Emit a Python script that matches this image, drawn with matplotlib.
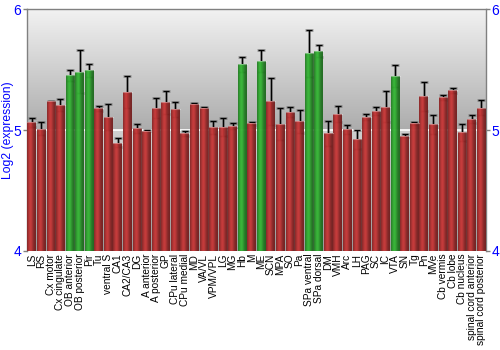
import numpy as np
import matplotlib
matplotlib.use("Agg")
import matplotlib.pyplot as plt
from matplotlib.colors import LinearSegmentedColormap, to_rgb

plt.rcParams['font.family'] = ['Liberation Sans', 'DejaVu Sans']

regions = ["LS", "RS", "Cx motor", "Cx cingulate", "OB anterior", "OB posterior", "Pir",
           "Tu", "ventral S", "CA1", "CA2/CA3", "DG", "A anterior", "A posterior", "GP",
           "CPu lateral", "CPu medial", "MD", "VA/VL", "VPM/VPL", "LG", "MG", "Hb", "M",
           "ME", "SCN", "MPA", "SO", "Pa", "SPa ventral", "SPa dorsal", "DM", "VMH", "Arc",
           "LH", "PAG", "SC", "IC", "VTA", "SN", "Tg", "Pn", "MVe", "Cb vermis", "Cb lobe",
           "Cb nucleus", "spinal cord anterior", "spinal cord posterior"]

expression = [5.064, 5.014, 5.240, 5.205, 5.454, 5.485, 5.496,
              5.183, 5.108, 4.895, 5.319, 5.017, 4.997, 5.183, 5.230,
              5.172, 4.975, 5.219, 5.186, 5.025, 5.028, 5.036, 5.548, 5.058,
              5.571, 5.238, 5.053, 5.150, 5.075, 5.637, 5.657, 4.975, 5.133, 5.006,
              4.925, 5.108, 5.158, 5.194, 5.449, 4.953, 5.058, 5.280, 5.050, 5.274, 5.332,
              4.983, 5.091, 5.186]

error = [0.040, 0.055, 0.005, 0.050, 0.048, 0.177, 0.053,
         0.020, 0.105, 0.037, 0.133, 0.037, 0.007, 0.082, 0.094,
         0.065, 0.020, 0.004, 0.004, 0.053, 0.072, 0.022, 0.062, 0.014,
         0.090, 0.194, 0.132, 0.044, 0.095, 0.193, 0.050, 0.102, 0.066, 0.039,
         0.078, 0.027, 0.036, 0.127, 0.090, 0.012, 0.014, 0.118, 0.079, 0.020, 0.020,
         0.069, 0.032, 0.062]

highlighted = ["OB anterior", "OB posterior", "Pir", "Hb", "ME", "SPa ventral",
               "SPa dorsal", "VTA"]

y_min, y_max = 4, 6
y_ticks = [4, 5, 6]

fig = plt.figure(figsize=(5, 3.5), dpi=100)
ax = fig.add_axes([0.054, 0.283, 0.918, 0.690])

x = np.arange(len(regions))
n = len(regions)

# background: grey gradient above the reference level, softer grey below
top_grad = LinearSegmentedColormap.from_list("top", ["#acacac", "#f2f2f2"])
ax.imshow(np.linspace(0, 1, 256).reshape(-1, 1), cmap=top_grad, aspect="auto",
          origin="lower", extent=(-0.5, n - 0.5, 5, y_max), zorder=0)
low_grad = LinearSegmentedColormap.from_list("low", ["#9a9a9a", "#cfcfcf"])
ax.imshow(np.linspace(0, 1, 256).reshape(-1, 1), cmap=low_grad, aspect="auto",
          origin="lower", extent=(-0.5, n - 0.5, y_min, 5), zorder=0)
ax.axhline(5, color="white", lw=1.2, zorder=1)

# error bars, with a soft grey halo under the black line
ax.errorbar(x, expression, yerr=error, fmt="none", ecolor="#606060", elinewidth=2.0,
            capsize=2.6, capthick=2.0, alpha=0.55, zorder=2)
ax.errorbar(x, expression, yerr=error, fmt="none", ecolor="black", elinewidth=0.9,
            capsize=2.2, capthick=0.9, zorder=2)

width = 0.92
colors = ["#32a832" if r in highlighted else "#b83434" for r in regions]
bars = ax.bar(x, np.array(expression) - y_min, bottom=y_min, width=width,
              color=colors, edgecolor="none", alpha=0.8, zorder=3)

# horizontal shading across each bar
profile = np.linspace(0, 1, 64)
shade = 0.55 + 0.55 * np.exp(-((profile - 0.38) / 0.32) ** 2)
for bar, c in zip(bars, colors):
    rgb = np.array(to_rgb(c))
    row = np.clip(rgb[None, :] * shade[:, None], 0, 1)
    img = np.repeat(row[None, :, :], 2, axis=0)
    x0 = bar.get_x()
    top = bar.get_y() + bar.get_height()
    im = ax.imshow(img, aspect="auto", extent=(x0, x0 + bar.get_width(), y_min, top),
                   zorder=4, alpha=0.82, interpolation="bilinear")
    im.set_clip_path(bar)
    ax.plot([x0, x0 + bar.get_width()], [top, top],
            color="white", alpha=0.35, lw=0.8, zorder=5)

ax.set_xlim(-0.5, n - 0.5)
ax.set_ylim(y_min, y_max)

ax.set_xticks(x)
ax.set_xticklabels(regions, rotation=90, fontsize=7.3, color="black")
ax.tick_params(axis="x", length=0, pad=2)

ax.set_yticks(y_ticks)
ax.set_yticklabels([str(t) for t in y_ticks], fontsize=10, color="#0000ff")
ax.tick_params(axis="y", length=3, width=1, color="#808080", pad=1,
               left=True, right=True, labelleft=True, labelright=True)
ax.set_ylabel("Log2 (expression)", fontsize=8.7, color="#0000ff")
ax.yaxis.set_label_coords(-0.029, 0.5)

for side in ("left", "top", "right"):
    ax.spines[side].set_color("#808080")
    ax.spines[side].set_linewidth(1)
ax.spines["bottom"].set_visible(False)

fig.savefig("out.png", dpi=100)
